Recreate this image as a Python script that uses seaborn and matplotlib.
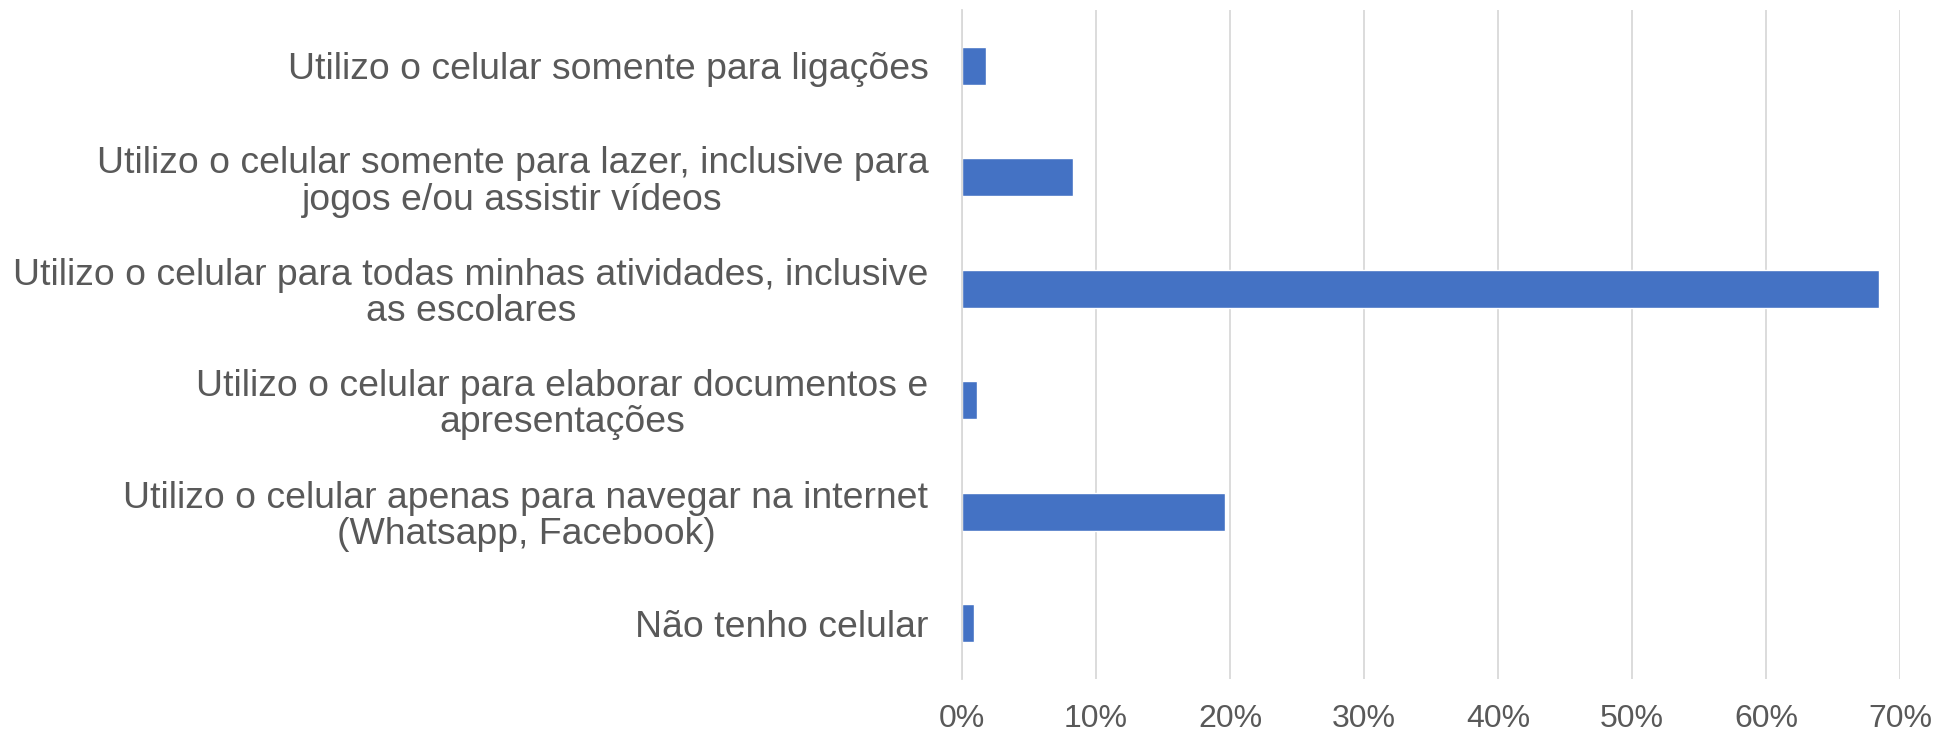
import pandas as pd
import seaborn as sns
import matplotlib.pyplot as plt
from matplotlib.ticker import PercentFormatter

# respostas (de cima para baixo)
categorias = [
    "Utilizo o celular somente para ligações",
    "Utilizo o celular somente para lazer, inclusive para\njogos e/ou assistir vídeos",
    "Utilizo o celular para todas minhas atividades, inclusive\nas escolares",
    "Utilizo o celular para elaborar documentos e\napresentações",
    "Utilizo o celular apenas para navegar na internet\n(Whatsapp, Facebook)",
    "Não tenho celular",
]
percentuais = [0.018, 0.083, 0.684, 0.011, 0.196, 0.009]
ticks_x = [0, 0.1, 0.2, 0.3, 0.4, 0.5, 0.6, 0.7]

df = pd.DataFrame({"Resposta": categorias, "Percentual": percentuais})

sns.set_style("white")
plt.rcParams["font.family"] = ["Liberation Sans", "DejaVu Sans"]

cinza_texto = "#595959"
cinza_grade = "#D9D9D9"

fig = plt.figure(figsize=(19.49, 7.34), dpi=100)
ax = fig.add_axes([0.4935, 0.075, 0.4815, 0.911])

sns.barplot(data=df, x="Percentual", y="Resposta", orient="h",
            color="#4472C4", width=0.34, saturation=1, ax=ax)

ax.set_xlim(0, 0.7)
ax.set_xticks(ticks_x)
ax.xaxis.set_major_formatter(PercentFormatter(1.0, decimals=0))
ax.grid(axis="x", color=cinza_grade, linewidth=1.3)
ax.set_axisbelow(True)
for s in ["top", "right", "bottom"]:
    ax.spines[s].set_visible(False)
ax.spines["left"].set_color(cinza_grade)
ax.spines["left"].set_linewidth(1.3)

ax.set_xlabel("")
ax.set_ylabel("")
ax.tick_params(axis="both", length=0, colors=cinza_texto)
ax.tick_params(axis="x", labelsize=23, pad=18)
ax.tick_params(axis="y", labelsize=26.9, pad=24)
for lbl in ax.get_yticklabels():
    lbl.set_multialignment("center")
    lbl.set_linespacing(1.04)

plt.savefig("out.png", dpi=100)
